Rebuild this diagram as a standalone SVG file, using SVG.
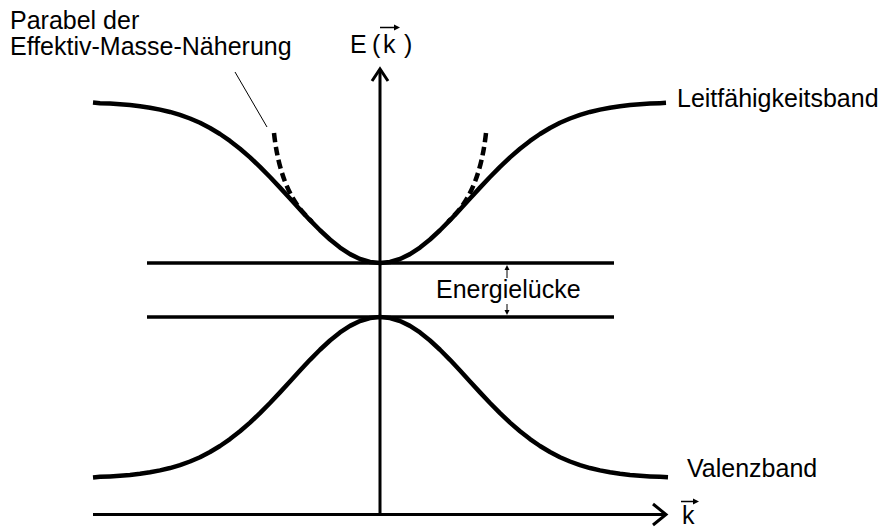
<svg xmlns="http://www.w3.org/2000/svg" width="882" height="529" viewBox="0 0 882 529">
<style>
text{font-family:"Liberation Sans",Arial,sans-serif;font-size:25px;fill:#000}
.band{fill:none;stroke:#000;stroke-width:4.5;stroke-linejoin:round;stroke-linecap:butt}
.axis{fill:none;stroke:#000;stroke-width:3}
.lvl{fill:none;stroke:#000;stroke-width:3.5}
.dash{fill:none;stroke:#000;stroke-width:4.5;stroke-dasharray:9 4.5}
.thin{fill:none;stroke:#000;stroke-width:1}
</style>
<rect width="882" height="529" fill="#fff"/>
<g id="axes">
  <line class="axis" x1="380" y1="69" x2="380" y2="516"/>
  <polyline class="axis" points="372,81 380,69 388,81"/>
  <line class="axis" x1="93" y1="514.5" x2="666" y2="514.5"/>
  <polyline class="axis" points="653,504 666,514.5 653,525"/>
</g>
<g id="levels">
  <line class="lvl" x1="147" y1="263" x2="614" y2="263"/>
  <line class="lvl" x1="147" y1="317" x2="614" y2="317"/>
</g>
<g id="leitungsband">
  <polyline class="band" points="93,102.5 100,103.14 110,103.6 120,104.25 130,105.1 140,106.25 150,107.7 160,109.6 170,111.95 180,114.9 190,118.5 200,122.8 210,128 220,134 230,140.9 240,148.72 250,157.4 260,166.87 270,177.01 280,187.64 290,198.55 300,209.48 310,220.17 320,230.27 330,239.49 340,247.53 350,254.11 360,258.99 370,261.99 380,263 390,261.99 400,258.99 410,254.11 420,247.53 430,239.49 440,230.27 450,220.17 460,209.48 470,198.55 480,187.64 490,177.01 500,166.87 510,157.4 520,148.72 530,140.9 540,134 550,128 560,122.8 570,118.5 580,114.9 590,111.95 600,109.6 610,107.7 620,106.25 630,105.1 640,104.25 650,103.6 660,103.14 666,102.8"/>
</g>
<g id="valenzband">
  <polyline class="band" points="93,477.5 100,476.86 110,476.4 120,475.75 130,474.9 140,473.75 150,472.3 160,470.4 170,468.05 180,465.1 190,461.5 200,457.2 210,452 220,446 230,439.1 240,431.28 250,422.6 260,413.13 270,402.99 280,392.36 290,381.45 300,370.52 310,359.83 320,349.73 330,340.51 340,332.47 350,325.89 360,321.01 370,318.01 380,317 390,318.01 400,321.01 410,325.89 420,332.47 430,340.51 440,349.73 450,359.83 460,370.52 470,381.45 480,392.36 490,402.99 500,413.13 510,422.6 520,431.28 530,439.1 540,446 550,452 560,457.2 570,461.5 580,465.1 590,468.05 600,470.4 610,472.3 620,473.75 630,474.9 640,475.75 650,476.4 660,476.86 668,477.3"/>
</g>
<g id="parabel">
  <path class="dash" d="M274,133 Q280,188 305,214.6 L312,221.8"/>
  <path class="dash" d="M486,133 Q480,188 455,214.6 L448,221.8"/>
  <line class="thin" x1="235" y1="72" x2="267" y2="127"/>
</g>
<g id="luecke">
  <line class="thin" x1="507" y1="278" x2="507" y2="268"/>
  <polygon points="504.5,270 507,265 509.5,270"/>
  <line class="thin" x1="507" y1="304" x2="507" y2="312"/>
  <polygon points="504.5,310 507,315 509.5,310"/>
</g>
<g id="labels">
  <text x="10" y="29">Parabel der</text>
  <text x="10" y="55">Effektiv-Masse-Näherung</text>
  <text y="53"><tspan x="350">E</tspan><tspan x="372">(</tspan><tspan x="383">k</tspan><tspan x="404">)</tspan></text>
  <text x="677" y="107">Leitfähigkeitsband</text>
  <text x="436" y="298">Energielücke</text>
  <text x="687" y="477">Valenzband</text>
  <text x="682" y="524">k</text>
</g>
<g id="vektorpfeile">
  <line x1="380" y1="27.5" x2="396" y2="27.5" stroke="#000" stroke-width="1.5"/>
  <polygon points="394,24.5 400,27.5 394,30.5"/>
  <line x1="681" y1="501.5" x2="695" y2="501.5" stroke="#000" stroke-width="1.5"/>
  <polygon points="693,498.5 699,501.5 693,504.5"/>
</g>
</svg>
